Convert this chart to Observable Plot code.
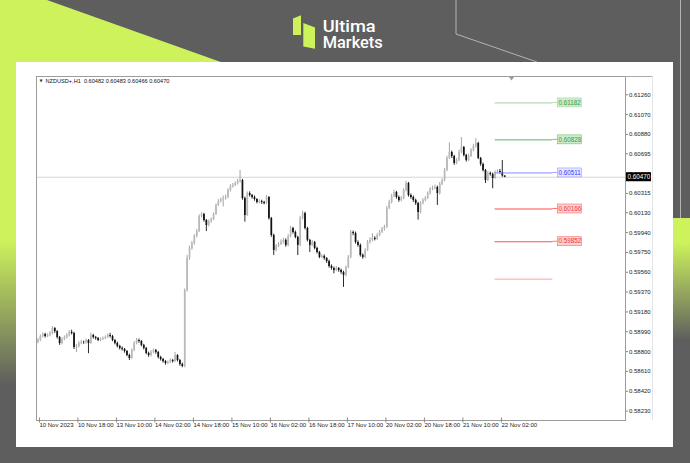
<!DOCTYPE html>
<html><head><meta charset="utf-8">
<script src="https://cdn.jsdelivr.net/npm/d3@7"></script>
<script src="https://cdn.jsdelivr.net/npm/@observablehq/plot@0.6"></script>
<style>
html,body{margin:0;padding:0;width:690px;height:463px;overflow:hidden;background:#5e5e5e;}
#stage{position:relative;width:690px;height:463px;}
#bg,#ov{position:absolute;left:0;top:0;}
#panel{position:absolute;left:16px;top:62px;width:657px;height:385px;background:#fff;}
#chart{position:absolute;left:16px;top:62px;}
</style></head>
<body><div id="stage">
<svg id="bg" width="690" height="463">
<defs>
<linearGradient id="lg" x1="0" y1="0" x2="0" y2="463" gradientUnits="userSpaceOnUse">
<stop offset="0.52" stop-color="#cdf25c"/><stop offset="0.83" stop-color="#5e5e5e"/></linearGradient>
<linearGradient id="rg" x1="0" y1="218" x2="0" y2="463" gradientUnits="userSpaceOnUse">
<stop offset="0.1" stop-color="#cdf25c"/><stop offset="0.5" stop-color="#5e5e5e"/></linearGradient>
</defs>
<rect width="690" height="463" fill="#5e5e5e"/>
<polygon points="0,0 47,0 232,66 0,66" fill="#cdf25c"/>
<rect x="0" y="0" width="17" height="463" fill="url(#lg)"/>
<rect x="672" y="218" width="18" height="245" fill="url(#rg)"/>
<polyline points="456,0 456,34 537,62" stroke="#b4b4b4" stroke-width="1" fill="none"/>
<line x1="680.5" y1="0" x2="680.5" y2="218" stroke="#b4b4b4" stroke-width="1"/>
<polygon points="293,18.5 301,15.3 301,35 293,35" fill="#cdf25c"/>
<polygon points="303.3,23 315,27.5 315,48.7 303.3,46.5" fill="#cdf25c"/>
<text x="322.7" y="32" fill="#fff" font-family="Roboto" font-weight="500" font-size="17" textLength="53" lengthAdjust="spacingAndGlyphs">Ultima</text>
<text x="322.7" y="47.5" fill="#fff" font-family="Roboto" font-weight="500" font-size="17" textLength="60" lengthAdjust="spacingAndGlyphs">Markets</text>
</svg>
<div id="panel"></div>
<div id="chart"></div>
</div>
<script>
const symbol = "NZDUSD+,H1";
const xTickIdx = [0,16,32,48,64,80,96,112,128,144,160,176,192];
const xLabels = ["10 Nov 2023","10 Nov 18:00","13 Nov 10:00","14 Nov 02:00","14 Nov 18:00","15 Nov 10:00","16 Nov 02:00","16 Nov 18:00","17 Nov 10:00","20 Nov 02:00","20 Nov 18:00","21 Nov 10:00","22 Nov 02:00"];
const yTicks = [0.61260,0.61070,0.60880,0.60695,0.60505,0.60315,0.60130,0.59940,0.59750,0.59560,0.59370,0.59180,0.58990,0.58800,0.58610,0.58420,0.58230];

const opens = [0.58890,0.58907,0.58945,0.58964,0.58945,0.58954,0.58973,0.59021,0.58992,0.58935,
0.58878,0.58916,0.58935,0.58954,0.58983,0.58973,0.58840,0.58850,0.58878,0.58888,
0.58886,0.58907,0.58878,0.58954,0.58935,0.58925,0.58907,0.58916,0.58925,0.58935,
0.58954,0.58945,0.58907,0.58878,0.58850,0.58830,0.58821,0.58801,0.58763,0.58734,
0.58811,0.58878,0.58907,0.58897,0.58859,0.58830,0.58782,0.58763,0.58792,0.58811,
0.58792,0.58744,0.58725,0.58705,0.58686,0.58696,0.58715,0.58705,0.58763,0.58715,
0.58677,0.58658,0.59386,0.59692,0.59788,0.59836,0.59903,0.59950,0.60095,0.60114,
0.60056,0.60008,0.60046,0.60066,0.60114,0.60200,0.60238,0.60257,0.60266,0.60276,
0.60343,0.60382,0.60391,0.60410,0.60429,0.60439,0.60266,0.60104,0.60314,0.60295,
0.60276,0.60257,0.60229,0.60238,0.60229,0.60219,0.60276,0.60075,0.59912,0.59769,
0.59808,0.59827,0.59846,0.59865,0.59817,0.59903,0.59979,0.59941,0.59893,0.59817,
0.60075,0.60123,0.59979,0.59865,0.59817,0.59846,0.59788,0.59750,0.59702,0.59712,
0.59692,0.59663,0.59616,0.59596,0.59577,0.59596,0.59577,0.59558,0.59529,0.59606,
0.59702,0.59941,0.59931,0.59846,0.59817,0.59721,0.59702,0.59769,0.59846,0.59865,
0.59884,0.59874,0.59912,0.59941,0.59970,0.59989,0.60171,0.60229,0.60286,0.60324,
0.60276,0.60248,0.60266,0.60343,0.60410,0.60295,0.60276,0.60248,0.60219,0.60133,
0.60219,0.60248,0.60266,0.60314,0.60353,0.60362,0.60372,0.60314,0.60401,0.60439,
0.60535,0.60650,0.60707,0.60669,0.60602,0.60631,0.60707,0.60755,0.60679,0.60631,
0.60669,0.60726,0.60765,0.60793,0.60650,0.60593,0.60535,0.60439,0.60506,0.60497,
0.60458,0.60516,0.60525,0.60516,0.60482];

const highs = [0.58925,0.58960,0.58980,0.58975,0.58970,0.58990,0.59040,0.59030,0.59000,0.58945,
0.58930,0.58950,0.58970,0.59000,0.59005,0.58985,0.58870,0.58895,0.58905,0.58900,
0.58920,0.58915,0.58975,0.58965,0.58945,0.58935,0.58930,0.58940,0.58950,0.58970,
0.58975,0.58955,0.58915,0.58890,0.58860,0.58845,0.58830,0.58810,0.58775,0.58825,
0.58895,0.58925,0.58920,0.58905,0.58870,0.58840,0.58795,0.58810,0.58825,0.58820,
0.58800,0.58755,0.58735,0.58715,0.58710,0.58730,0.58725,0.58790,0.58770,0.58725,
0.58690,0.59400,0.59720,0.59810,0.59855,0.59920,0.59970,0.60110,0.60130,0.60125,
0.60065,0.60060,0.60080,0.60130,0.60215,0.60255,0.60270,0.60290,0.60300,0.60360,
0.60400,0.60410,0.60425,0.60450,0.60535,0.60450,0.60280,0.60330,0.60330,0.60305,
0.60290,0.60265,0.60255,0.60250,0.60240,0.60295,0.60285,0.60085,0.59925,0.59825,
0.59845,0.59870,0.59885,0.59880,0.59920,0.60000,0.59990,0.59955,0.59905,0.60095,
0.60145,0.60135,0.59990,0.59875,0.59865,0.59855,0.59800,0.59760,0.59730,0.59725,
0.59700,0.59675,0.59630,0.59610,0.59615,0.59605,0.59590,0.59570,0.59620,0.59720,
0.59960,0.59955,0.59945,0.59860,0.59830,0.59735,0.59785,0.59865,0.59890,0.59930,
0.59900,0.59930,0.59960,0.59990,0.60010,0.60190,0.60250,0.60305,0.60345,0.60335,
0.60290,0.60285,0.60360,0.60430,0.60420,0.60310,0.60290,0.60260,0.60230,0.60235,
0.60265,0.60285,0.60330,0.60370,0.60385,0.60395,0.60385,0.60420,0.60455,0.60555,
0.60670,0.60800,0.60720,0.60680,0.60650,0.60730,0.60850,0.60765,0.60690,0.60690,
0.60745,0.60785,0.60840,0.60805,0.60660,0.60605,0.60545,0.60525,0.60520,0.60510,
0.60530,0.60540,0.60545,0.60630,0.60483];

const lows = [0.58875,0.58895,0.58930,0.58930,0.58935,0.58940,0.58960,0.58975,0.58920,0.58860,
0.58865,0.58905,0.58920,0.58940,0.58960,0.58820,0.58790,0.58835,0.58865,0.58870,
0.58870,0.58780,0.58870,0.58920,0.58910,0.58895,0.58895,0.58905,0.58915,0.58925,
0.58930,0.58895,0.58865,0.58835,0.58815,0.58805,0.58785,0.58750,0.58715,0.58725,
0.58800,0.58865,0.58880,0.58845,0.58815,0.58770,0.58745,0.58750,0.58780,0.58775,
0.58730,0.58710,0.58690,0.58670,0.58675,0.58685,0.58690,0.58695,0.58700,0.58660,
0.58645,0.58645,0.59370,0.59675,0.59770,0.59820,0.59890,0.59940,0.60080,0.60040,
0.59950,0.59995,0.60030,0.60055,0.60105,0.60190,0.60225,0.60185,0.60250,0.60265,
0.60330,0.60365,0.60380,0.60395,0.60415,0.60250,0.60040,0.60095,0.60280,0.60260,
0.60240,0.60215,0.60215,0.60210,0.60205,0.60210,0.60060,0.59895,0.59720,0.59755,
0.59795,0.59815,0.59830,0.59800,0.59805,0.59890,0.59925,0.59880,0.59720,0.59805,
0.60060,0.59965,0.59850,0.59750,0.59805,0.59775,0.59735,0.59690,0.59690,0.59675,
0.59645,0.59600,0.59580,0.59545,0.59565,0.59560,0.59540,0.59415,0.59515,0.59595,
0.59690,0.59910,0.59830,0.59800,0.59705,0.59685,0.59690,0.59760,0.59830,0.59850,
0.59860,0.59865,0.59900,0.59930,0.59955,0.59980,0.60160,0.60215,0.60275,0.60260,
0.60230,0.60235,0.60255,0.60330,0.60280,0.60260,0.60230,0.60200,0.60060,0.60120,
0.60205,0.60235,0.60255,0.60300,0.60340,0.60350,0.60200,0.60300,0.60390,0.60425,
0.60525,0.60640,0.60650,0.60585,0.60590,0.60620,0.60695,0.60665,0.60615,0.60620,
0.60660,0.60715,0.60750,0.60640,0.60575,0.60520,0.60410,0.60430,0.60480,0.60360,
0.60450,0.60505,0.60500,0.60470,0.60466];

const closes = [0.58907,0.58945,0.58964,0.58945,0.58954,0.58973,0.59021,0.58992,0.58935,0.58878,
0.58916,0.58935,0.58954,0.58983,0.58973,0.58840,0.58850,0.58878,0.58888,0.58886,
0.58907,0.58878,0.58954,0.58935,0.58925,0.58907,0.58916,0.58925,0.58935,0.58954,
0.58945,0.58907,0.58878,0.58850,0.58830,0.58821,0.58801,0.58763,0.58734,0.58811,
0.58878,0.58907,0.58897,0.58859,0.58830,0.58782,0.58763,0.58792,0.58811,0.58792,
0.58744,0.58725,0.58705,0.58686,0.58696,0.58715,0.58705,0.58763,0.58715,0.58677,
0.58658,0.59386,0.59692,0.59788,0.59836,0.59903,0.59950,0.60095,0.60114,0.60056,
0.60008,0.60046,0.60066,0.60114,0.60200,0.60238,0.60257,0.60266,0.60276,0.60343,
0.60382,0.60391,0.60410,0.60429,0.60439,0.60266,0.60104,0.60314,0.60295,0.60276,
0.60257,0.60229,0.60238,0.60229,0.60219,0.60276,0.60075,0.59912,0.59769,0.59808,
0.59827,0.59846,0.59865,0.59817,0.59903,0.59979,0.59941,0.59893,0.59817,0.60075,
0.60123,0.59979,0.59865,0.59817,0.59846,0.59788,0.59750,0.59702,0.59712,0.59692,
0.59663,0.59616,0.59596,0.59577,0.59596,0.59577,0.59558,0.59529,0.59606,0.59702,
0.59941,0.59931,0.59846,0.59817,0.59721,0.59702,0.59769,0.59846,0.59865,0.59884,
0.59874,0.59912,0.59941,0.59970,0.59989,0.60171,0.60229,0.60286,0.60324,0.60276,
0.60248,0.60266,0.60343,0.60410,0.60295,0.60276,0.60248,0.60219,0.60133,0.60219,
0.60248,0.60266,0.60314,0.60353,0.60362,0.60372,0.60314,0.60401,0.60439,0.60535,
0.60650,0.60707,0.60669,0.60602,0.60631,0.60707,0.60755,0.60679,0.60631,0.60669,
0.60726,0.60765,0.60793,0.60650,0.60593,0.60535,0.60439,0.60506,0.60497,0.60458,
0.60516,0.60525,0.60516,0.60482,0.60470];

const levels = [0.61182, 0.60828, 0.60511, 0.60166, 0.59852, 0.59494];
const levelLabels = ["0.61182", "0.60828", "0.60511", "0.60166", "0.59852", ""];
const levelSpan = [190, 214];

// styles
const levelStroke = ["#9fd49f", "#5cb85c", "#8a8aff", "#ff4f4f", "#ff4f4f", "#ffa0a0"];
const levelText = ["#3f9a3f", "#3f9a3f", "#3b3bff", "#e83a3a", "#e83a3a", "#e83a3a"];
const levelBox = ["#cdebcd", "#cdebcd", "#e6e6ff", "#ffd2d2", "#ffd2d2", "#ffd2d2"];
const bullBody = "#b9b9b9", bullWick = "#9a9a9a", bear = "#111";
const FONT = "'Liberation Sans', Arial, sans-serif";

const candles = closes.map((c, i) => ({i, o: opens[i], h: highs[i], l: lows[i], c}));
const last = candles[candles.length - 1];
const header = `${symbol}  ${last.o.toFixed(5)} ${last.h.toFixed(5)} ${last.l.toFixed(5)} ${last.c.toFixed(5)}`;
const pivots = levels.map((v, k) => ({v, k, label: levelLabels[k]}));

function overlay(index, scales, values, dims) {
  const g = d3.create("svg:g").attr("text-anchor", "start");
  const x = scales.x, y = scales.y;
  const right = dims.width - dims.marginRight;
  const top = dims.marginTop, bottom = dims.height - dims.marginBottom;
  g.append("line").attr("x1", right).attr("x2", right + 27).attr("y1", top + 0.5).attr("y2", top + 0.5).attr("stroke", "#aaa");
  g.append("line").attr("x1", right + 27.5).attr("x2", right + 27.5).attr("y1", top).attr("y2", bottom).attr("stroke", "#e4e4e4");
  g.append("path").attr("d", `M${x(196)},${top + 1}l5,0l-2.5,3.5z`).attr("fill", "#9a9a9a");
  pivots.forEach(p => {
    if (!p.label) return;
    const x0 = x(levelSpan[1]);
    const yy = y(p.v);
    g.append("line").attr("x1", x0).attr("x2", x0 + 5).attr("y1", yy).attr("y2", yy).attr("stroke", levelStroke[p.k]).attr("stroke-width", 0.8);
    g.append("rect").attr("x", x0 + 5).attr("y", yy - 4.5).attr("width", 24).attr("height", 9)
      .attr("fill", levelBox[p.k]).attr("stroke", levelStroke[p.k]).attr("stroke-width", 0.5);
    g.append("text").attr("x", x0 + 6.2).attr("y", yy + 2.2).attr("font-size", 6.3).attr("font-family", FONT)
      .attr("text-anchor", "start").attr("fill", levelText[p.k]).text(p.label);
  });
  const yc = y(last.c);
  g.append("rect").attr("x", right + 1).attr("y", yc - 4.5).attr("width", 25).attr("height", 9).attr("fill", "#000");
  g.append("text").attr("x", right + 2.5).attr("y", yc + 2.2).attr("font-size", 6.3).attr("font-family", FONT)
    .attr("text-anchor", "start").attr("fill", "#fff").text(last.c.toFixed(5));
  return g.node();
}

const chart = Plot.plot({
  width: 657, height: 385,
  marginLeft: 20, marginRight: 48, marginTop: 14, marginBottom: 27,
  x: {domain: [-0.6, 244.2], axis: null},
  y: {domain: [0.58140, 0.61435], axis: null},
  style: {background: "transparent", fontFamily: FONT, fontSize: "6px", color: "#222"},
  marks: [
    Plot.ruleY([last.c], {stroke: "#d6d6d6", strokeWidth: 1}),
    Plot.ruleX(candles, {x: "i", y1: "l", y2: "h", stroke: d => d.c >= d.o ? bullWick : bear, strokeWidth: 0.9}),
    Plot.ruleX(candles, {x: "i", y1: "o", y2: "c", stroke: d => d.c >= d.o ? bullBody : bear, strokeWidth: 1.7}),
    Plot.ruleY(pivots, {y: "v", x1: levelSpan[0], x2: levelSpan[1], stroke: d => levelStroke[d.k], strokeWidth: 1}),
    Plot.frame({stroke: "#9c9c9c"}),
    Plot.axisY(yTicks, {anchor: "right", label: null, tickFormat: d => d.toFixed(5), tickSize: 2, tickPadding: 1.5, fontSize: 6, stroke: "#888", fill: "#222"}),
    Plot.axisX(xTickIdx, {anchor: "bottom", label: null, tickFormat: d => xLabels[xTickIdx.indexOf(d)], tickSize: 5, tickPadding: 0, dy: -2.5, dx: 1.5, textAnchor: "start", fontSize: 6, stroke: "#888", fill: "#222"}),
    Plot.text([header], {text: d => d, frameAnchor: "top-left", dx: 9, dy: 2.5, lineAnchor: "top", fontSize: 5.6, fill: "#111"}),
    Plot.text(["▼"], {text: d => d, frameAnchor: "top-left", dx: 3, dy: 3, lineAnchor: "top", fontSize: 4, fill: "#333", fontFamily: "DejaVu Sans"}),
    overlay
  ]
});
document.getElementById("chart").appendChild(chart);
</script>
</body></html>
